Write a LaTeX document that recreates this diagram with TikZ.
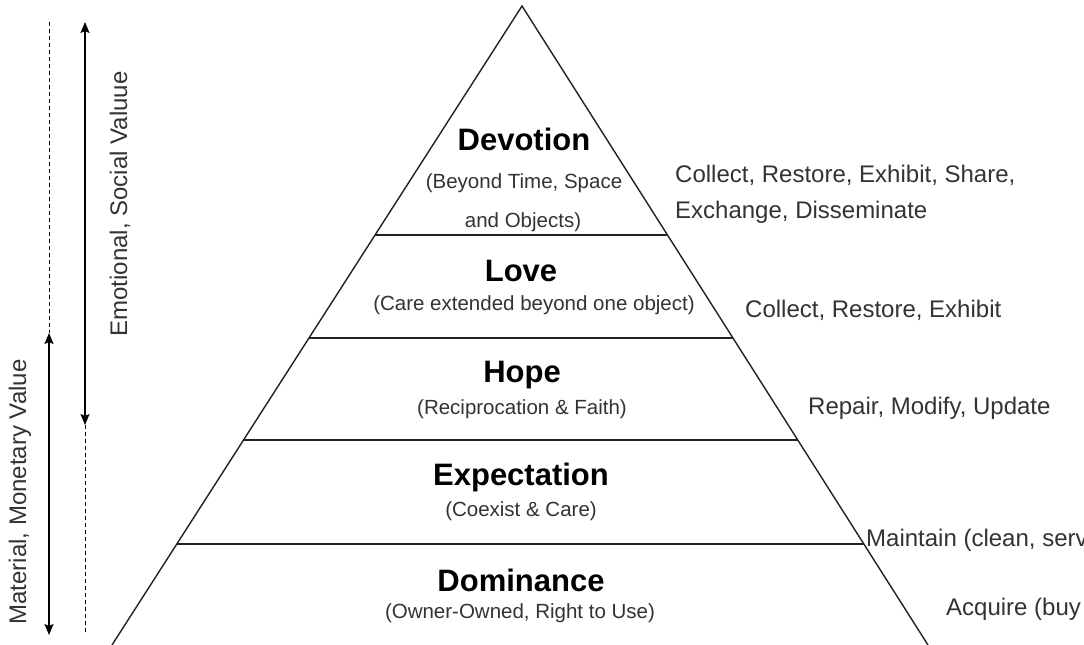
\documentclass[tikz,border=0pt]{standalone}
\usepackage{fontspec}
\setmainfont{Liberation Sans}
\usetikzlibrary{arrows.meta,calc}
\definecolor{ink}{HTML}{222222}
\definecolor{txt}{HTML}{333333}
\begin{document}
\begin{tikzpicture}[x=1pt,y=-1pt,
  edge/.style={draw=ink,line width=1.4pt},
  title/.style={font=\fontsize{31}{36}\selectfont\bfseries,text=black,inner sep=0pt},
  sub/.style={font=\fontsize{20.5}{24}\selectfont,text=txt,inner sep=0pt},
  act/.style={font=\fontsize{24}{28}\selectfont,text=txt,inner sep=0pt,anchor=west},
  axislabel/.style={font=\fontsize{24}{28}\selectfont,text=txt,inner sep=0pt,rotate=90},
  span/.style={draw=black,line width=1.4pt,
    {Stealth[length=11pt,width=9pt,inset=2pt]}-{Stealth[length=11pt,width=9pt,inset=2pt]}},
  guide/.style={draw=black,line width=1pt,dash pattern=on 4pt off 3pt}]

% canvas
\useasboundingbox (0,0) rectangle (1084,645);
\clip (0,0) rectangle (1084,645);
\fill[white] (0,0) rectangle (1084,645);

% pyramid outline
\coordinate (apex) at (522,6);
\coordinate (bl) at (112,645);
\coordinate (br) at (928,645);
\draw[edge,line join=miter] (bl) -- (apex) -- (br);

% band separators
\coordinate (sepAL) at ($(apex)!0.3584!(bl)$);
\coordinate (sepAR) at ($(apex)!0.3584!(br)$);
\coordinate (sepBL) at ($(apex)!0.5196!(bl)$);
\coordinate (sepBR) at ($(apex)!0.5196!(br)$);
\coordinate (sepCL) at ($(apex)!0.6792!(bl)$);
\coordinate (sepCR) at ($(apex)!0.6792!(br)$);
\coordinate (sepDL) at ($(apex)!0.8419!(bl)$);
\coordinate (sepDR) at ($(apex)!0.8419!(br)$);
\draw[edge] (sepAL) -- (sepAR);
\draw[edge] (sepBL) -- (sepBR);
\draw[edge] (sepCL) -- (sepCR);
\draw[edge] (sepDL) -- (sepDR);

% levels
\node[title] (devotion) at (524,139) {Devotion};
\node[sub] (devsub1) at (524,183) {(Beyond Time, Space};
\node[sub] (devsub2) at (523,222) {and Objects)};

\node[title] (love) at (521,271) {Love};
\node[sub] (lovesub) at (534,305) {(Care extended beyond one object)};

\node[title] (hope) at (522,375) {Hope};
\node[sub] (hopesub) at (522,409) {(Reciprocation \& Faith)};

\node[title] (expect) at (521,477) {Expectation};
\node[sub] (expectsub) at (521,511) {(Coexist \& Care)};

\node[title] (dominance) at (521,580) {Dominance};
\node[sub] (domsub) at (520,613) {(Owner-Owned, Right to Use)};

% activities beside each level
\node[act] (act1a) at (675,175) {Collect, Restore, Exhibit, Share,};
\node[act] (act1b) at (675,212) {Exchange, Disseminate};
\node[act] (act2) at (745,310) {Collect, Restore, Exhibit};
\node[act] (act3) at (808,408) {Repair, Modify, Update};
\node[act] (act4) at (866,540) {Maintain (clean, serv};
\node[act] (act5) at (946,609) {Acquire (buy};

% value axes
\coordinate (m0) at (49,22);
\coordinate (m1) at (49,333);
\coordinate (m2) at (49,635);
\coordinate (e0) at (85,22);
\coordinate (e1) at (85,425);
\coordinate (e2) at (85,635);
\draw[guide] (m0) -- (m1);
\draw[span] (m1) -- (m2);
\draw[span] (e0) -- (e1);
\draw[guide] (e1) -- (e2);
\node[axislabel] (material) at (20,492) {Material, Monetary Value};
\node[axislabel] (emotional) at (120,204) {Emotional, Social Valuue};
\end{tikzpicture}
\end{document}
